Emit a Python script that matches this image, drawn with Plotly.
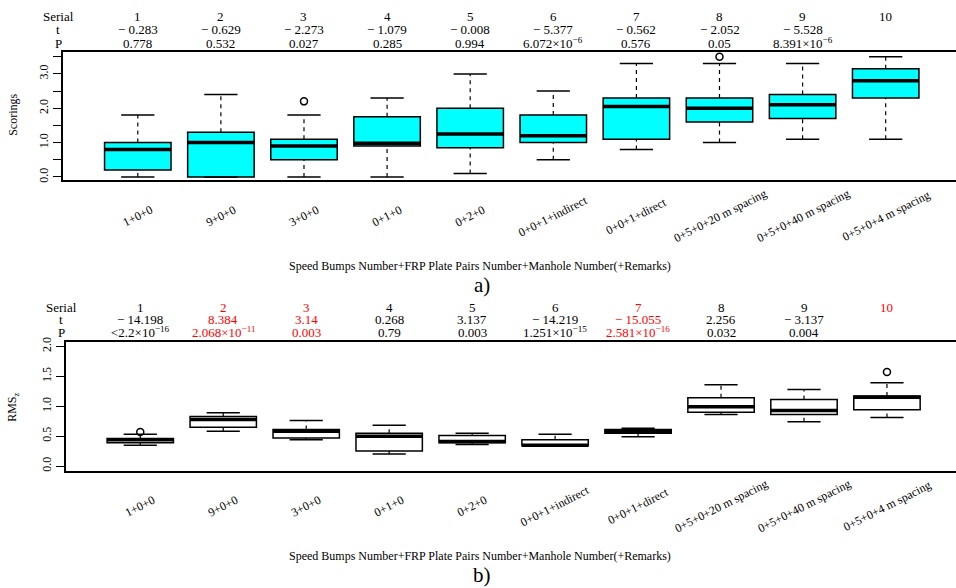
import plotly.graph_objects as go

W, H = 956, 588
FONT = "'Liberation Serif', 'Times New Roman', Times, 'DejaVu Serif', serif"

categories = ["1+0+0", "9+0+0", "3+0+0", "0+1+0", "0+2+0", "0+0+1+indirect",
              "0+0+1+direct", "0+5+0+20 m spacing", "0+5+0+40 m spacing", "0+5+0+4 m spacing"]
serials = ["1", "2", "3", "4", "5", "6", "7", "8", "9", "10"]

# panel a) Scorings box statistics
sc_low = [0.0, 0.0, 0.0, 0.0, 0.1, 0.5, 0.8, 1.0, 1.1, 1.1]
sc_q1 = [0.2, 0.0, 0.5, 0.9, 0.85, 1.0, 1.1, 1.6, 1.7, 2.3]
sc_med = [0.8, 1.0, 0.9, 0.98, 1.25, 1.2, 2.05, 2.0, 2.1, 2.8]
sc_q3 = [1.0, 1.3, 1.1, 1.75, 2.0, 1.8, 2.3, 2.3, 2.4, 3.15]
sc_high = [1.8, 2.4, 1.8, 2.3, 3.0, 2.5, 3.3, 3.3, 3.3, 3.5]
sc_out_x = [3, 8]
sc_out_y = [2.2, 3.5]
sc_ticks = [0, 1, 2, 3]
sc_ticktext = ["0.0", "1.0", "2.0", "3.0"]
t_top = ["\u2212 0.283", "\u2212 0.629", "\u2212 2.273", "\u2212 1.079", "\u2212 0.008",
         "\u2212 5.377", "\u2212 0.562", "\u2212 2.052", "\u2212 5.528", ""]
p_top = ["0.778", "0.532", "0.027", "0.285", "0.994", "6.072\u00d710<sup>\u22126</sup>",
         "0.576", "0.05", "8.391\u00d710<sup>\u22126</sup>", ""]
red_top = [False] * 10

# panel b) RMS_z box statistics
rms_low = [0.35, 0.58, 0.44, 0.20, 0.36, 0.33, 0.49, 0.86, 0.74, 0.81]
rms_q1 = [0.39, 0.65, 0.47, 0.25, 0.39, 0.34, 0.55, 0.90, 0.86, 0.94]
rms_med = [0.44, 0.78, 0.58, 0.50, 0.41, 0.35, 0.58, 0.99, 0.93, 1.15]
rms_q3 = [0.46, 0.83, 0.61, 0.55, 0.51, 0.44, 0.61, 1.14, 1.11, 1.17]
rms_high = [0.53, 0.89, 0.76, 0.68, 0.55, 0.53, 0.63, 1.36, 1.28, 1.39]
rms_out_x = [1, 10]
rms_out_y = [0.57, 1.57]
rms_ticks = [0, 0.5, 1, 1.5, 2]
rms_ticktext = ["0.0", "0.5", "1.0", "1.5", "2.0"]
t_bot = ["\u2212 14.198", "8.384", "3.14", "0.268", "3.137", "\u2212 14.219",
         "\u2212 15.055", "2.256", "\u2212 3.137", ""]
p_bot = ["&lt;2.2\u00d710<sup>\u221216</sup>", "2.068\u00d710<sup>\u221211</sup>", "0.003", "0.79",
         "0.003", "1.251\u00d710<sup>\u221215</sup>", "2.581\u00d710<sup>\u221216</sup>", "0.032",
         "0.004", ""]
red_bot = [False, True, True, False, False, False, True, False, False, True]

positions = list(range(1, 11))
BOXW = 0.8
CAPW = 0.4


def px(x):
    return x / W


def py(y):
    return 1 - y / H


fig = go.Figure()


def add_panel(xa, ya, low, q1, med, q3, high, ox, oy, fill):
    fig.add_trace(go.Box(
        x=positions, q1=q1, median=med, q3=q3, lowerfence=q1, upperfence=q3,
        width=BOXW, whiskerwidth=0, fillcolor=fill,
        line=dict(color="black", width=1.5), boxpoints=False,
        xaxis=xa, yaxis=ya, showlegend=False, hoverinfo="skip"))
    wx, wy, cx, cy, mx, my = [], [], [], [], [], []
    for p, lo, a, m, b, hi in zip(positions, low, q1, med, q3, high):
        wx += [p, p, None, p, p, None]
        wy += [b, hi, None, lo, a, None]
        cx += [p - CAPW / 2, p + CAPW / 2, None, p - CAPW / 2, p + CAPW / 2, None]
        cy += [hi, hi, None, lo, lo, None]
        mx += [p - BOXW / 2, p + BOXW / 2, None]
        my += [m, m, None]
    fig.add_trace(go.Scatter(x=wx, y=wy, mode="lines", xaxis=xa, yaxis=ya,
                             line=dict(color="black", width=1.2, dash="4px,4px"),
                             showlegend=False, hoverinfo="skip"))
    fig.add_trace(go.Scatter(x=cx, y=cy, mode="lines", xaxis=xa, yaxis=ya,
                             line=dict(color="black", width=1.5),
                             showlegend=False, hoverinfo="skip"))
    fig.add_trace(go.Scatter(x=mx, y=my, mode="lines", xaxis=xa, yaxis=ya,
                             line=dict(color="black", width=3.5),
                             showlegend=False, hoverinfo="skip"))
    fig.add_trace(go.Scatter(x=ox, y=oy, mode="markers", xaxis=xa, yaxis=ya,
                             marker=dict(symbol="circle-open", size=7, color="black",
                                         line=dict(width=1.5)),
                             showlegend=False, hoverinfo="skip"))


add_panel("x", "y", sc_low, sc_q1, sc_med, sc_q3, sc_high, sc_out_x, sc_out_y, "#00FFFF")
add_panel("x2", "y2", rms_low, rms_q1, rms_med, rms_q3, rms_high, rms_out_x, rms_out_y, "white")

axis_common = dict(showgrid=False, zeroline=False, showline=True, linecolor="black",
                   linewidth=1.5)

ann = []


def header(xref, label_x, ys, tvals, pvals, reds):
    rows = [("Serial", serials), ("t", tvals), ("P", pvals)]
    for (name, vals), yy in zip(rows, ys):
        ann.append(dict(x=px(label_x), y=py(yy), xref="paper", yref="paper", text=name,
                        showarrow=False, xanchor="center", yanchor="bottom",
                        font=dict(size=13, color="black", family=FONT)))
        for p, v, r in zip(positions, vals, reds):
            if v == "":
                continue
            ann.append(dict(x=p, y=py(yy), xref=xref, yref="paper", text=v,
                            showarrow=False, xanchor="center", yanchor="bottom",
                            font=dict(size=13, color="red" if r else "black", family=FONT)))


def xlabels(xref, ycen):
    for p, c in zip(positions, categories):
        ann.append(dict(x=p, y=py(ycen), xref=xref, yref="paper", text=c, textangle=-27,
                        showarrow=False, xanchor="center", yanchor="middle",
                        font=dict(size=12, color="black", family=FONT)))


header("x", 58, [22, 35.5, 49], t_top, p_top, red_top)
header("x2", 61, [316, 328, 341.5], t_bot, p_bot, red_bot)
xlabels("x", 214)
xlabels("x2", 507)

for ycen, txt in [(264.5, "Speed Bumps Number+FRP Plate Pairs Number+Manhole Number(+Remarks)"),
                  (557.5, "Speed Bumps Number+FRP Plate Pairs Number+Manhole Number(+Remarks)")]:
    ann.append(dict(x=px(480), y=py(ycen), xref="paper", yref="paper", text=txt,
                    showarrow=False, xanchor="center", yanchor="middle",
                    font=dict(size=12, color="black", family=FONT)))
for ycen, txt in [(284, "a)"), (577, "b)")]:
    ann.append(dict(x=px(482), y=py(ycen), xref="paper", yref="paper", text=txt,
                    showarrow=False, xanchor="center", yanchor="middle",
                    font=dict(size=21, color="black", family=FONT)))
for ycen, txt in [(112, "Scorings"), (408, "RMS<sub>z</sub>")]:
    ann.append(dict(x=px(13), y=py(ycen), xref="paper", yref="paper", text=txt,
                    textangle=-90, showarrow=False, xanchor="center", yanchor="middle",
                    font=dict(size=12, color="black", family=FONT)))

fig.update_layout(
    width=W, height=H, margin=dict(l=0, r=0, t=0, b=0),
    paper_bgcolor="white", plot_bgcolor="white",
    font=dict(family=FONT, size=12, color="black"),
    showlegend=False,
    xaxis=dict(domain=[px(63), 1], range=[0.1, 10.846], showticklabels=False, ticks="",
               mirror=True, **axis_common),
    yaxis=dict(domain=[py(178), py(48)], range=[-0.095, 3.652],
               tickvals=sc_ticks, ticktext=sc_ticktext,
               ticks="outside", ticklen=8, tickwidth=1.2, tickcolor="black",
               minor=dict(tick0=0.5, dtick=1, ticks="outside", ticklen=8, tickwidth=1.2,
                          tickcolor="black", showgrid=False),
               tickangle=-90, tickfont=dict(size=12, family=FONT), **axis_common),
    xaxis2=dict(domain=[px(65.6), 1], range=[0.1, 10.832], showticklabels=False, ticks="",
                mirror=True, anchor="y2", **axis_common),
    yaxis2=dict(domain=[py(471.7), py(341)], range=[-0.08, 2.08],
                tickvals=rms_ticks, ticktext=rms_ticktext,
                ticks="outside", ticklen=8, tickwidth=1.2, tickcolor="black",
                tickangle=-90, tickfont=dict(size=12, family=FONT), anchor="x2",
                **axis_common),
    annotations=ann,
)

fig.write_html("out.html")
